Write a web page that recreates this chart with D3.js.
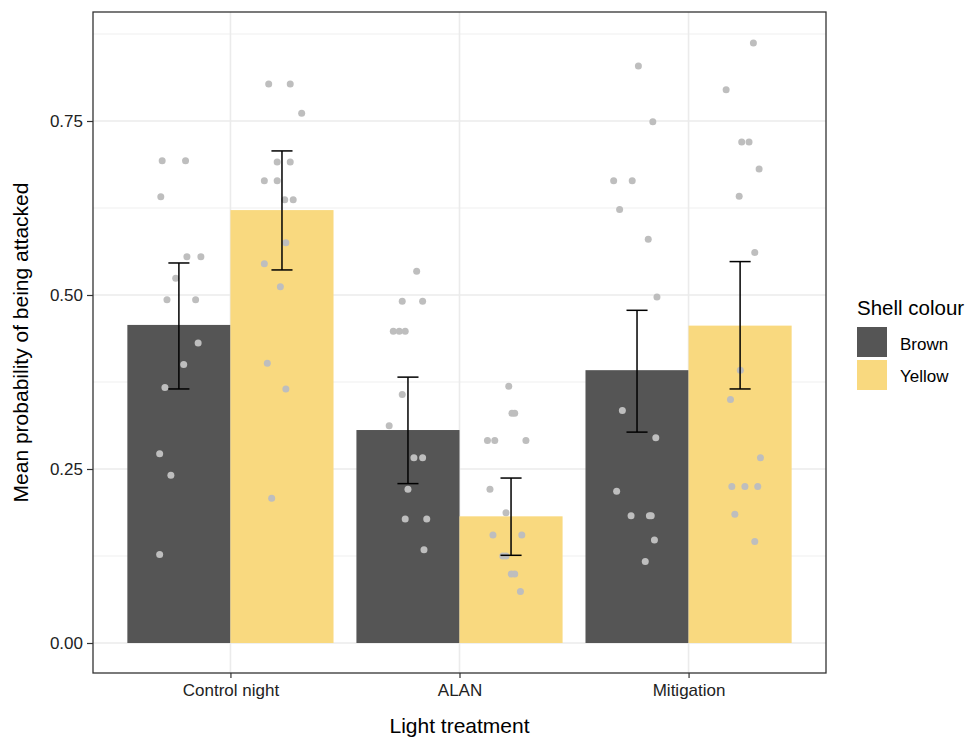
<!DOCTYPE html>
<html>
<head>
<meta charset="utf-8">
<script src="https://cdn.jsdelivr.net/npm/d3@7"></script>
<style>
  body { margin: 0; background: #fff; }
  svg { font-family: "Liberation Sans", Arial, sans-serif; }
</style>
</head>
<body>
<div class="chart"></div>
<script>
const treatments = ['Control night', 'ALAN', 'Mitigation'];
const colours = ['Brown', 'Yellow'];

// bar heights (mean) and error bar limits, order: treatment x colour
const meanBrown = [0.457, 0.306, 0.392];
const meanYellow = [0.622, 0.182, 0.456];
const lowBrown = [0.365, 0.229, 0.303];
const highBrown = [0.546, 0.382, 0.478];
const lowYellow = [0.536, 0.126, 0.365];
const highYellow = [0.707, 0.237, 0.548];

// raw points: [jitter offset, value]
const ptsControlBrown = [[-0.073, 0.693], [0.029, 0.693], [-0.079, 0.641], [0.035, 0.555], [0.096, 0.555], [-0.014, 0.524], [-0.052, 0.493], [0.073, 0.493], [0.084, 0.431], [0.021, 0.400], [-0.061, 0.367], [-0.084, 0.272], [-0.035, 0.241], [-0.084, 0.127]];
const ptsControlYellow = [[-0.058, 0.803], [0.036, 0.803], [0.086, 0.761], [-0.021, 0.691], [0.036, 0.691], [-0.077, 0.664], [-0.021, 0.664], [0.012, 0.637], [0.049, 0.637], [0.017, 0.575], [-0.077, 0.545], [-0.007, 0.512], [-0.064, 0.402], [0.017, 0.365], [-0.045, 0.208]];
const ptsAlanBrown = [[0.038, 0.534], [-0.025, 0.491], [0.064, 0.491], [-0.064, 0.448], [-0.038, 0.448], [-0.012, 0.448], [-0.025, 0.357], [-0.082, 0.312], [0.026, 0.266], [0.064, 0.266], [0.000, 0.221], [-0.012, 0.178], [0.082, 0.178], [0.070, 0.134]];
const ptsAlanYellow = [[-0.010, 0.369], [0.004, 0.330], [0.016, 0.330], [-0.103, 0.291], [-0.071, 0.291], [0.065, 0.291], [-0.092, 0.221], [-0.022, 0.187], [-0.079, 0.155], [0.047, 0.155], [-0.036, 0.125], [-0.022, 0.125], [0.001, 0.099], [0.016, 0.099], [0.041, 0.074]];
const ptsMitBrown = [[0.006, 0.829], [0.069, 0.749], [-0.102, 0.664], [-0.021, 0.664], [-0.076, 0.623], [0.049, 0.580], [0.087, 0.497], [-0.064, 0.334], [0.082, 0.295], [-0.089, 0.218], [-0.026, 0.183], [0.054, 0.183], [0.062, 0.183], [0.076, 0.148], [0.036, 0.117]];
const ptsMitYellow = [[0.058, 0.862], [-0.061, 0.795], [0.007, 0.720], [0.039, 0.720], [0.083, 0.681], [-0.004, 0.642], [0.064, 0.561], [0.001, 0.392], [-0.042, 0.350], [0.089, 0.266], [-0.036, 0.225], [0.021, 0.225], [0.077, 0.225], [-0.023, 0.185], [0.064, 0.146]];

const yTicks = [0, 0.25, 0.5, 0.75];
const yMinor = [0.125, 0.375, 0.625, 0.875];

const w = 966, h = 739;
const panel = { left: 93, right: 826, top: 12, bottom: 673 };
const fill = { Brown: '#555555', Yellow: '#f9d97f' };

const svg = d3.select('.chart').append('svg')
  .attr('width', w).attr('height', h);

// continuous x in category units, 1..3, ggplot expansion 0.6
const x = d3.scaleLinear().domain([0.4, 3.6]).range([panel.left, panel.right]);
const y = d3.scaleLinear().domain([-0.0431, 0.9066]).range([panel.bottom, panel.top]);
const dodge = { Brown: -0.225, Yellow: 0.225 };
const barW = 0.45;

const rows = [];
treatments.forEach((t, i) => {
  rows.push({ t, i, c: 'Brown', mean: meanBrown[i], lo: lowBrown[i], hi: highBrown[i] });
  rows.push({ t, i, c: 'Yellow', mean: meanYellow[i], lo: lowYellow[i], hi: highYellow[i] });
});
const points = [];
[[ptsControlBrown, 0, 'Brown'], [ptsControlYellow, 0, 'Yellow'],
 [ptsAlanBrown, 1, 'Brown'], [ptsAlanYellow, 1, 'Yellow'],
 [ptsMitBrown, 2, 'Brown'], [ptsMitYellow, 2, 'Yellow']].forEach(([arr, i, c]) => {
  arr.forEach(p => points.push({ u: i + 1 + dodge[c] + p[0], v: p[1] }));
});

// grid
const grid = svg.append('g');
grid.selectAll('.minor').data(yMinor).enter().append('line')
  .attr('x1', panel.left).attr('x2', panel.right)
  .attr('y1', d => y(d)).attr('y2', d => y(d))
  .attr('stroke', '#ebebeb').attr('stroke-width', 0.8);
grid.selectAll('.major').data(yTicks).enter().append('line')
  .attr('x1', panel.left).attr('x2', panel.right)
  .attr('y1', d => y(d)).attr('y2', d => y(d))
  .attr('stroke', '#ebebeb').attr('stroke-width', 1.6);
grid.selectAll('.vmajor').data(treatments).enter().append('line')
  .attr('x1', (d, i) => x(i + 1)).attr('x2', (d, i) => x(i + 1))
  .attr('y1', panel.top).attr('y2', panel.bottom)
  .attr('stroke', '#ebebeb').attr('stroke-width', 1.6);

// bars
svg.append('g').selectAll('rect').data(rows).enter().append('rect')
  .attr('x', d => x(d.i + 1 + dodge[d.c] - barW / 2))
  .attr('width', d => x(barW) - x(0))
  .attr('y', d => y(d.mean))
  .attr('height', d => y(0) - y(d.mean))
  .attr('fill', d => fill[d.c]);

// points
svg.append('g').selectAll('circle').data(points).enter().append('circle')
  .attr('cx', d => x(d.u)).attr('cy', d => y(d.v))
  .attr('r', 3.5).attr('fill', '#bebebe');

// error bars
const capW = 0.046;
const eb = svg.append('g').attr('stroke', '#000').attr('stroke-width', 1.5);
rows.forEach(d => {
  const cx = x(d.i + 1 + dodge[d.c]);
  const half = x(capW) - x(0);
  eb.append('line').attr('x1', cx).attr('x2', cx).attr('y1', y(d.lo)).attr('y2', y(d.hi));
  eb.append('line').attr('x1', cx - half).attr('x2', cx + half).attr('y1', y(d.lo)).attr('y2', y(d.lo));
  eb.append('line').attr('x1', cx - half).attr('x2', cx + half).attr('y1', y(d.hi)).attr('y2', y(d.hi));
});

// panel border
svg.append('rect')
  .attr('x', panel.left).attr('y', panel.top)
  .attr('width', panel.right - panel.left).attr('height', panel.bottom - panel.top)
  .attr('fill', 'none').attr('stroke', '#333').attr('stroke-width', 1.3);

// y axis
const yAxis = svg.append('g')
  .attr('transform', `translate(${panel.left},0)`)
  .call(d3.axisLeft(y).tickValues(yTicks).tickFormat(d3.format('.2f')).tickSize(6).tickPadding(4));
yAxis.select('.domain').remove();
yAxis.selectAll('line').attr('stroke', '#333').attr('stroke-width', 1.2);
yAxis.selectAll('text').attr('font-size', 17).attr('fill', '#222')
  .attr('font-family', '"Liberation Sans", Arial, sans-serif');

// x axis
const xAxis = svg.append('g')
  .attr('transform', `translate(0,${panel.bottom})`)
  .call(d3.axisBottom(x).tickValues([1, 2, 3]).tickFormat(d => treatments[d - 1]).tickSize(5).tickPadding(6));
xAxis.select('.domain').remove();
xAxis.selectAll('line').attr('stroke', '#333').attr('stroke-width', 1.2);
xAxis.selectAll('text').attr('font-size', 17).attr('fill', '#222')
  .attr('font-family', '"Liberation Sans", Arial, sans-serif');

// axis titles
svg.append('text')
  .attr('x', (panel.left + panel.right) / 2).attr('y', 733)
  .attr('text-anchor', 'middle').attr('font-size', 21).attr('fill', '#000')
  .text('Light treatment');
svg.append('text')
  .attr('transform', `translate(28,${(panel.top + panel.bottom) / 2}) rotate(-90)`)
  .attr('text-anchor', 'middle').attr('font-size', 21).attr('fill', '#000')
  .text('Mean probability of being attacked');

// legend
const lg = svg.append('g').attr('transform', 'translate(857,0)');
lg.append('text').attr('x', 0).attr('y', 315).attr('font-size', 20.5).attr('fill', '#000').text('Shell colour');
colours.forEach((c, i) => {
  lg.append('rect').attr('x', 0).attr('y', 327 + i * 33).attr('width', 30).attr('height', 30).attr('fill', fill[c]);
  lg.append('text').attr('x', 43).attr('y', 350 + i * 32).attr('font-size', 17).attr('fill', '#000').text(c);
});
</script>
</body>
</html>
